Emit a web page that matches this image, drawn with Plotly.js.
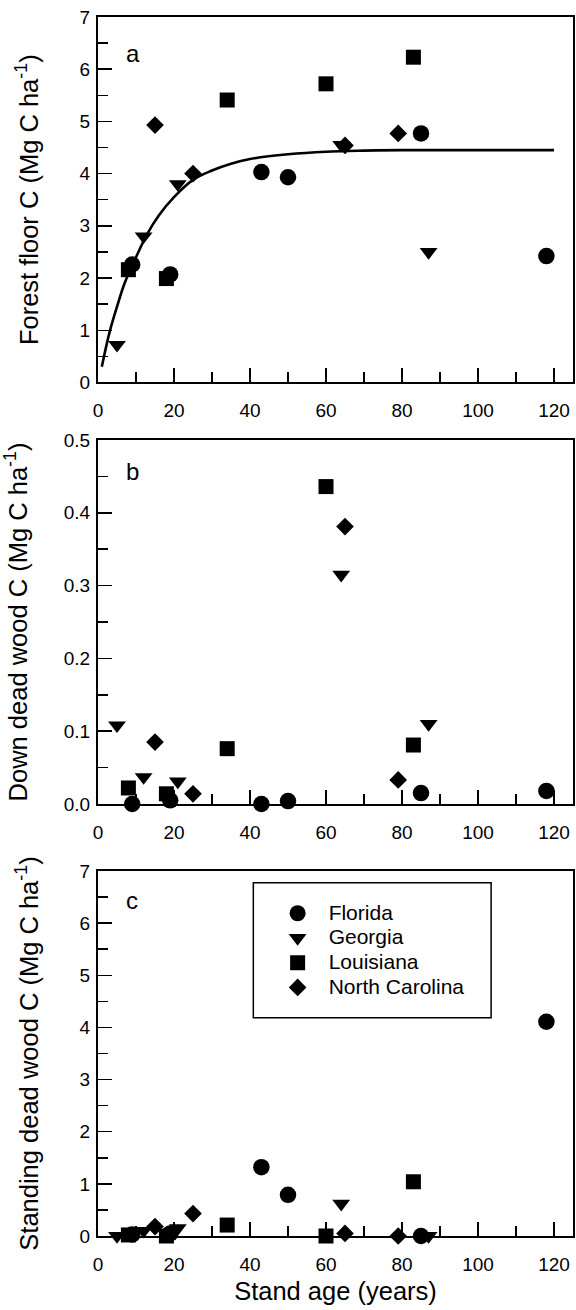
<!DOCTYPE html>
<html>
<head>
<meta charset="utf-8">
<script src="https://cdn.plot.ly/plotly-3.0.1.min.js"></script>
<style>
html,body{margin:0;padding:0;background:#fff;}
#chart{width:576px;height:1310px;}
</style>
</head>
<body>
<div id="chart"></div>
<script>
// ---- Data ----
const states = ["Florida", "Georgia", "Louisiana", "North Carolina"];

const flAge = [9, 19, 43, 50, 85, 118];
const gaAge = [5, 12, 21, 64, 87];
const laAge = [8, 18, 34, 60, 83];
const ncAge = [15, 25, 65, 79];

// (a) Forest floor C
const flFloor = [2.26, 2.07, 4.03, 3.93, 4.77, 2.42];
const gaFloor = [0.72, 2.80, 3.80, 4.55, 2.50];
const laFloor = [2.16, 1.99, 5.41, 5.72, 6.23];
const ncFloor = [4.93, 4.00, 4.54, 4.77];

// (b) Down dead wood C
const flDown = [0.000, 0.005, 0.000, 0.004, 0.015, 0.018];
const gaDown = [0.108, 0.037, 0.031, 0.315, 0.110];
const laDown = [0.022, 0.014, 0.076, 0.436, 0.081];
const ncDown = [0.085, 0.014, 0.381, 0.033];

// (c) Standing dead wood C
const flStand = [0.03, 0.05, 1.32, 0.79, 0.00, 4.11];
const gaStand = [0.00, 0.10, 0.15, 0.62, 0.00];
const laStand = [0.02, 0.00, 0.21, 0.00, 1.04];
const ncStand = [0.18, 0.43, 0.05, 0.00];

// fitted curve in panel (a)
const fitAge = [1, 3, 5, 7, 10, 13, 16, 20, 25, 30, 35, 40, 50, 60, 70, 80, 100, 120];
const fitC   = [0.30, 0.95, 1.45, 1.90, 2.40, 2.85, 3.20, 3.55, 3.88, 4.06, 4.19, 4.28, 4.37, 4.42, 4.44, 4.45, 4.45, 4.45];

const panelLabels = ["a", "b", "c"];
const xTitle = "Stand age (years)";
const yTitles = ["Forest floor C (Mg C ha<sup>-1</sup>)",
                 "Down dead wood C (Mg C ha<sup>-1</sup>)",
                 "Standing dead wood C (Mg C ha<sup>-1</sup>)"];

// ---- Styling ----
const FONT = "Liberation Sans, Arial, Helvetica, sans-serif";
const symbols = ["circle", "triangle-down", "square", "diamond"];
const sizes = [16.5, 15.5, 15, 13.6];
const TITLE_SIZE = 25.5;
const TICK_SIZE = 19;

const ages = [flAge, gaAge, laAge, ncAge];
const panels = [
  [flFloor, gaFloor, laFloor, ncFloor],
  [flDown, gaDown, laDown, ncDown],
  [flStand, gaStand, laStand, ncStand]
];

const traces = [];
panels.forEach((vals, p) => {
  const ax = p === 0 ? "" : String(p + 1);
  vals.forEach((v, s) => {
    traces.push({
      type: "scatter", mode: "markers",
      x: ages[s], y: v,
      name: '<span style="font-size:21px">' + states[s] + '</span>',
      xaxis: "x" + ax, yaxis: "y" + ax,
      showlegend: p === 2,
      marker: {symbol: symbols[s], size: sizes[s], color: "#000", line: {width: 0}},
      cliponaxis: false
    });
  });
});
traces.push({
  type: "scatter", mode: "lines", x: fitAge, y: fitC,
  line: {color: "#000", width: 2.6, shape: "spline"},
  showlegend: false, xaxis: "x", yaxis: "y", hoverinfo: "skip"
});

function xax(anchor) {
  return {
    anchor: anchor, range: [0, 125], domain: [0, 1],
    tickvals: [0, 20, 40, 60, 80, 100, 120],
    ticks: "inside", ticklen: 14, tickwidth: 1.5, tickcolor: "#000",
    minor: {tickvals: [10, 30, 50, 70, 90, 110], ticks: "inside", ticklen: 10, tickwidth: 1.5, tickcolor: "#000"},
    showline: true, linecolor: "#000", linewidth: 2, mirror: true,
    showgrid: false, zeroline: false,
    tickfont: {family: FONT, size: TICK_SIZE, color: "#000"},
    ticklabelstandoff: 10
  };
}
function yax(anchor, domain, range, dtick, minorDtick, fmt, title) {
  return {
    anchor: anchor, domain: domain, range: range,
    dtick: dtick, tick0: 0, tickformat: fmt,
    ticks: "inside", ticklen: 14, tickwidth: 1.5, tickcolor: "#000",
    minor: {dtick: minorDtick, tick0: 0, ticks: "inside", ticklen: 10, tickwidth: 1.5, tickcolor: "#000"},
    showline: true, linecolor: "#000", linewidth: 2, mirror: true,
    showgrid: false, zeroline: false,
    tickfont: {family: FONT, size: TICK_SIZE, color: "#000"},
    ticklabelstandoff: 2,
    title: {text: title, font: {family: FONT, size: TITLE_SIZE, color: "#000"}, standoff: 34}
  };
}

const xa3 = xax("y3");
xa3.title = {text: xTitle, font: {family: FONT, size: TITLE_SIZE, color: "#000"}, standoff: 8};

const layout = {
  width: 576, height: 1310,
  margin: {l: 98, r: 3, t: 17, b: 74},
  paper_bgcolor: "#fff", plot_bgcolor: "#fff",
  font: {family: FONT, color: "#000"},
  showlegend: true,
  xaxis: xax("y"),
  xaxis2: xax("y2"),
  xaxis3: xa3,
  yaxis: yax("x", [0.7002, 1], [0, 7], 1, 0.5, "d", yTitles[0]),
  yaxis2: yax("x2", [0.3544, 0.6530], [0, 0.5], 0.1, 0.05, ".1f", yTitles[1]),
  yaxis3: yax("x3", [0, 0.2994], [0, 7], 1, 0.5, "d", yTitles[2]),
  legend: {
    x: 0.355, y: 0.2790, xanchor: "left", yanchor: "top",
    bgcolor: "rgba(0,0,0,0)", borderwidth: 0,
    font: {family: FONT, size: 16.7, color: "#000"},
    itemwidth: 52, tracegroupgap: 0
  },
  shapes: [{
    type: "rect", xref: "paper", yref: "paper",
    x0: 0.327, x1: 0.8276, y0: 0.1791, y1: 0.2898,
    line: {color: "#000", width: 1.5}, fillcolor: "rgba(0,0,0,0)", layer: "below"
  }],
  annotations: [
    {xref: "x", yref: "y", x: 9.1, y: 6.31, text: panelLabels[0]},
    {xref: "x2", yref: "y2", x: 9.0, y: 0.4565, text: panelLabels[1]},
    {xref: "x3", yref: "y3", x: 9.0, y: 6.43, text: panelLabels[2]}
  ].map(a => Object.assign(a, {showarrow: false, xanchor: "center", yanchor: "middle",
                                font: {family: FONT, size: 24, color: "#000"}}))
};

Plotly.newPlot("chart", traces, layout, {displayModeBar: false, staticPlot: true});
</script>
</body>
</html>
